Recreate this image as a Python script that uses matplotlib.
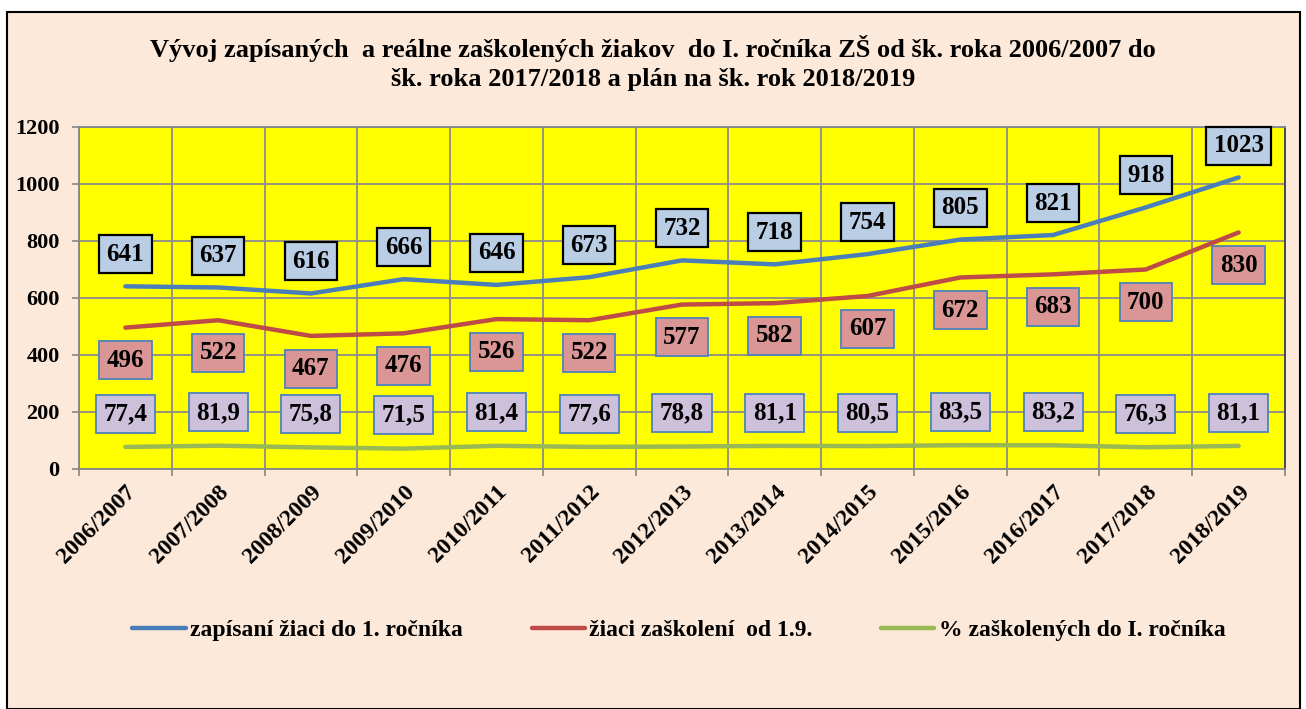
import matplotlib
matplotlib.use("Agg")
import matplotlib.pyplot as plt
from matplotlib.patches import Rectangle

years = ["2006/2007", "2007/2008", "2008/2009", "2009/2010", "2010/2011", "2011/2012",
         "2012/2013", "2013/2014", "2014/2015", "2015/2016", "2016/2017", "2017/2018", "2018/2019"]
zapisani = [641, 637, 616, 666, 646, 673, 732, 718, 754, 805, 821, 918, 1023]
zaskoleni = [496, 522, 467, 476, 526, 522, 577, 582, 607, 672, 683, 700, 830]
percento = [77.4, 81.9, 75.8, 71.5, 81.4, 77.6, 78.8, 81.1, 80.5, 83.5, 83.2, 76.3, 81.1]

title = ("Vývoj zapísaných  a reálne zaškolených žiakov  do I. ročníka ZŠ od šk. roka 2006/2007 do\n"
         "šk. roka 2017/2018 a plán na šk. rok 2018/2019")
legend_labels = ["zapísaní žiaci do 1. ročníka", "žiaci zaškolení  od 1.9.", "% zaškolených do I. ročníka"]

W, H = 1306, 709
fig = plt.figure(figsize=(W / 100, H / 100), dpi=100)
fig.patch.set_facecolor("white")
fig.patches.append(Rectangle((7 / W, 0), (1300 - 7) / W, 1 - 12 / H, transform=fig.transFigure,
                             facecolor="#FDE9D9", edgecolor="black", linewidth=1.5, zorder=-10))

serif = ["Liberation Serif", "DejaVu Serif"]
plt.rcParams["font.family"] = serif
plt.rcParams["font.weight"] = "bold"

ax = fig.add_axes([79 / W, 1 - 469 / H, (1285 - 79) / W, (469 - 127) / H])
ax.set_zorder(1)
ax.set_facecolor("#FFFF00")

x = list(range(len(years)))
c_blue, c_red, c_green = "#4A7EBB", "#BE4B48", "#98B954"
l1, = ax.plot(x, zapisani, color=c_blue, lw=3.2, solid_capstyle="round", zorder=3)
l2, = ax.plot(x, zaskoleni, color=c_red, lw=3.2, solid_capstyle="round", zorder=3)
l3, = ax.plot(x, percento, color=c_green, lw=3.2, solid_capstyle="round", zorder=3)

ax.set_xlim(-0.5, len(years) - 0.5)
ax.set_ylim(0, 1200)
ax.set_yticks(range(0, 1201, 200))
ax.set_xticks(x)
ax.set_xticks([i - 0.5 for i in range(len(years) + 1)], minor=True)
ax.set_xticklabels(years, rotation=45, ha="right", rotation_mode="anchor", fontsize=17, fontweight="bold")
ax.tick_params(axis="x", which="major", length=0, pad=9)
ax.tick_params(axis="x", which="minor", length=5, color="#868686", width=1.2)
ax.tick_params(axis="y", length=5, color="#868686", width=1.2, labelsize=16, pad=9)
for lab in ax.get_yticklabels():
    lab.set_fontweight("bold")
ax.grid(True, axis="y", color="#8C8C8C", lw=1.3, zorder=1)
ax.grid(True, axis="x", which="minor", color="#8C8C8C", lw=1.3, zorder=1)
ax.set_axisbelow(True)
for s in ax.spines.values():
    s.set_color("#868686")
    s.set_linewidth(1.3)
ax.spines["right"].set_color("#404040")

kw = dict(ha="center", va="center", fontsize=18, fontweight="bold", textcoords="offset points", zorder=5)
for xi, v in zip(x, zapisani):
    ax.annotate(f"{v}", (xi, v), xytext=(0, 23), **kw,
                bbox=dict(boxstyle="square,pad=0.3", fc="#B9CDE5", ec="black", lw=1.6))
for xi, v in zip(x, zaskoleni):
    ax.annotate(f"{v}", (xi, v), xytext=(0, -23.5), **kw,
                bbox=dict(boxstyle="square,pad=0.3", fc="#D99694", ec="#4F81BD", lw=1.3))
for xi, v in zip(x, percento):
    ax.annotate(f"{v:.1f}".replace(".", ","), (xi, v), xytext=(0, 24), **kw,
                bbox=dict(boxstyle="square,pad=0.3", fc="#CCC0DA", ec="#4F81BD", lw=1.3))

fig.text(0.5, 1 - 63 / H, title, ha="center", va="center", fontsize=19, fontweight="bold",
         linespacing=1.3)

fig.legend([l1, l2, l3], legend_labels, loc="center", bbox_to_anchor=(0.52, 1 - 630 / H),
           ncol=3, frameon=False, handlelength=2.25, handletextpad=0.2,
           columnspacing=2.9, prop=dict(family=serif, weight="bold", size=17))

fig.savefig("out.png", dpi=100, facecolor=fig.get_facecolor())
